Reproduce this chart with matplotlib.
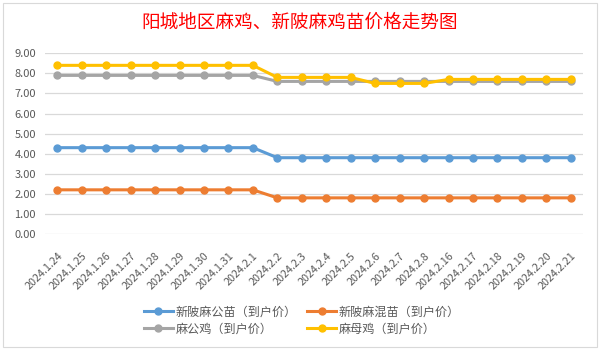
import matplotlib
matplotlib.use("Agg")
import matplotlib.pyplot as plt
from matplotlib.patches import Rectangle

plt.rcParams['font.family'] = ['Noto Sans CJK SC', 'DejaVu Sans']

# category labels (dates)
dates = ["2024.1.24", "2024.1.25", "2024.1.26", "2024.1.27", "2024.1.28", "2024.1.29",
         "2024.1.30", "2024.1.31", "2024.2.1", "2024.2.2", "2024.2.3", "2024.2.4",
         "2024.2.5", "2024.2.6", "2024.2.7", "2024.2.8", "2024.2.16", "2024.2.17",
         "2024.2.18", "2024.2.19", "2024.2.20", "2024.2.21"]

# series values
xinpi_gongmiao = [4.3] * 9 + [3.8] * 13
xinpi_hunmiao = [2.2] * 9 + [1.8] * 13
ma_gongji = [7.9] * 9 + [7.6] * 13
ma_muji = [8.4] * 9 + [7.8] * 4 + [7.5] * 3 + [7.7] * 6

series_names = ["新陂麻公苗（到户价）", "新陂麻混苗（到户价）", "麻公鸡（到户价）", "麻母鸡（到户价）"]
series_colors = ["#5B9BD5", "#ED7D31", "#A5A5A5", "#FFC000"]
y_ticks = [0, 1, 2, 3, 4, 5, 6, 7, 8, 9]

fig = plt.figure(figsize=(6.01, 3.51), dpi=100)
ax = fig.add_axes([45 / 601, 1 - 234 / 351, 538 / 601, (234 - 53.3) / 351])

x = list(range(len(dates)))
lines = []
for vals, name, col in zip([xinpi_gongmiao, xinpi_hunmiao, ma_gongji, ma_muji], series_names, series_colors):
    ln, = ax.plot(x, vals, color=col, lw=2.2, marker='o', markersize=5, label=name, zorder=3)
    lines.append(ln)

ax.set_xlim(-0.5, len(dates) - 0.5)
ax.set_ylim(0, 9)
ax.set_yticks(y_ticks)
ax.set_yticklabels([f"{v:.2f}" for v in y_ticks])
ax.set_xticks(x)
ax.set_xticklabels(dates, rotation=45, ha='right', va='top', rotation_mode='anchor')
ax.tick_params(axis='both', length=0, labelsize=8, labelcolor='#595959')
ax.tick_params(axis='x', pad=12, labelsize=7.8)
ax.tick_params(axis='y', pad=6.5)
ax.grid(axis='y', color='#D9D9D9', lw=0.9)
ax.set_axisbelow(True)
for s in ax.spines.values():
    s.set_visible(False)

fig.text(300 / 601, 1 - 22.5 / 351, "阳城地区麻鸡、新陂麻鸡苗价格走势图", color='red',
         fontsize=13.4, ha='center', va='center')

# legend: two rows, blue/orange on top, gray/yellow below
fig.legend([lines[0], lines[2], lines[1], lines[3]],
           [series_names[0], series_names[2], series_names[1], series_names[3]],
           ncol=2, loc='center', bbox_to_anchor=(302 / 601, 1 - 320.5 / 351),
           frameon=False, fontsize=8.7, handlelength=2.4, handletextpad=0.2,
           columnspacing=0.9, labelspacing=0.35, labelcolor='#595959')

# chart border
fig.patches.append(Rectangle((3 / 601, 4 / 351), 594 / 601, 344 / 351, transform=fig.transFigure,
                             fill=False, edgecolor='#D9D9D9', lw=0.8))

fig.savefig("out.png", dpi=100)
